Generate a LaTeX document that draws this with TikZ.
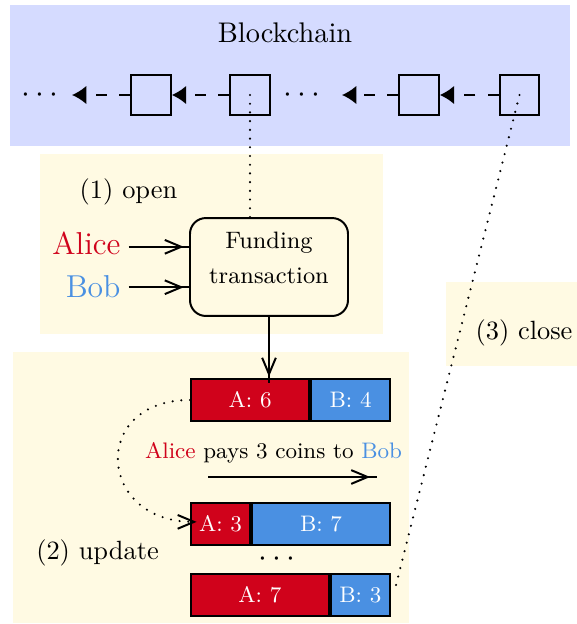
\documentclass[tikz,border=0pt]{standalone}
\usetikzlibrary{arrows.meta}

\definecolor{chainbg}{RGB}{213,219,255}
\definecolor{stagebg}{RGB}{255,250,227}
\definecolor{alicered}{RGB}{208,2,27}
\definecolor{bobblue}{RGB}{74,144,226}

\begin{document}
\begin{tikzpicture}[x=0.3788pt,y=-0.3788pt,
  block/.style={draw,line width=.75pt,minimum width=15pt,minimum height=15pt,inner sep=0pt},
  chainlink/.style={line width=.75pt,dash pattern=on 4.2pt off 4.6pt,-{Latex[length=5.4pt,width=7pt]}},
  dotline/.style={line width=.9pt,line cap=round,dash pattern=on 0pt off 3.3pt},
  barb/.tip={Straight Barb[length=6.2pt,width=5.2pt,line width=.75pt]},
  flow/.style={line width=.75pt,postaction={draw,line width=.75pt,-barb,shorten >=#1}},
  flow/.default=2.2pt,
  stagelabel/.style={font=\fontsize{10}{12}\selectfont,inner sep=0pt},
  party/.style={font=\fontsize{12}{14}\selectfont,anchor=base east,inner sep=0pt},
  chaindots/.style={font=\fontsize{11.5}{13}\selectfont,inner sep=0pt},
  fundbox/.style={draw,line width=.75pt,rounded corners=6pt,minimum width=59.85pt,minimum height=37.1pt,inner sep=0pt},
  bar/.style={draw,line width=.75pt,minimum height=15.9pt,inner sep=0pt,
    font=\fontsize{8.5}{10}\selectfont,text=white,anchor=north west},
  abar/.style={bar,fill=alicered},
  bbar/.style={bar,fill=bobblue}]

\useasboundingbox (0,0) rectangle (577,624);

% backgrounds
\fill[chainbg] (10,5) rectangle (570,146);
\fill[stagebg] (40,154) rectangle (383,334);
\fill[stagebg] (13,352) rectangle (409,623);
\fill[stagebg] (446,282) rectangle (577,366);

% blockchain
\node[font=\fontsize{10.75}{13}\selectfont] (title) at (285,33) {Blockchain};
\node[chaindots] (dotsL) at (39.5,95) {$\cdots$};
\node[block] (b1) at (151,95) {};
\node[block] (b2) at (250,95) {};
\node[chaindots] (dotsM) at (302,95) {$\cdots$};
\node[block] (b3) at (419,95) {};
\node[block] (b4) at (519.5,95) {};
\coordinate (tipL) at (72,95);
\coordinate (tipM) at (342,95);
\draw[chainlink] (b1.west) -- (tipL);
\draw[chainlink] (b2.west) -- (b1.east);
\draw[chainlink] (b3.west) -- (tipM);
\draw[chainlink] (b4.west) -- (b3.east);

% (1) open
\node[stagelabel] (openlab) at (128.5,192) {(1) open};
\node[fundbox] (fund) at (269,267) {};
\node[font=\fontsize{9}{13.3}\selectfont,align=center,inner sep=0pt] (fundtext) at (269,257.5) {Funding\\transaction};
\node[party,text=alicered] (alice) at (121,254) {Alice};
\node[party,text=bobblue] (bob) at (121,297) {Bob};
\coordinate (a0) at ([xshift=3pt,yshift=-1.5pt]alice.east);
\coordinate (b0) at ([xshift=3pt,yshift=-0.4pt]bob.east);
\draw[flow=2pt] (a0) -- (a0 -| fund.west);
\draw[flow=2pt] (b0) -- (b0 -| fund.west);

% (2) update
\node[stagelabel] (updlab) at (97.5,553) {(2) update};
\node[abar,minimum width=44.8pt] (bar6a) at (190,378) {A: 6};
\node[bbar,minimum width=29.8pt] (bar6b) at (bar6a.north east) {B: 4};
\node[abar,minimum width=22.4pt] (bar3a) at (190,502) {A: 3};
\node[bbar,minimum width=52.2pt] (bar3b) at (bar3a.north east) {B: 7};
\node[font=\fontsize{12}{14}\selectfont,inner sep=0pt] (dotsB) at (277,559) {$\cdots$};
\node[abar,minimum width=52.2pt] (bar7a) at (190,573) {A: 7};
\node[bbar,minimum width=22.4pt] (bar7b) at (bar7a.north east) {B: 3};

\coordinate (fundin) at (fund.south |- bar6a.north);
\draw[flow=2.5pt] (fund.south) -- ([yshift=-2pt]fundin);

\node[font=\fontsize{8.5}{10}\selectfont,inner sep=0pt] (pays) at (273.5,453)
  {\textcolor{alicered}{Alice} pays 3 coins to \textcolor{bobblue}{Bob}};
\coordinate (p0) at (208,477);
\coordinate (p1) at (377,477);
\draw[flow=2.6pt] (p0) -- (p1);

\coordinate (a3in) at ([xshift=2.5pt,yshift=0.8pt]bar3a.west);
\draw[dotline,-barb] (bar6a.west) .. controls +(-100,0) and +(-100,0) .. (a3in);

% (3) close
\node[stagelabel] (closelab) at (524,333) {(3) close};

% links from the chain
\draw[dotline] (b2.center) -- (b2.center |- fund.north);
\draw[dotline] (b4.center) -- ([xshift=1.5pt,yshift=2pt]bar7b.east);

\end{tikzpicture}
\end{document}
